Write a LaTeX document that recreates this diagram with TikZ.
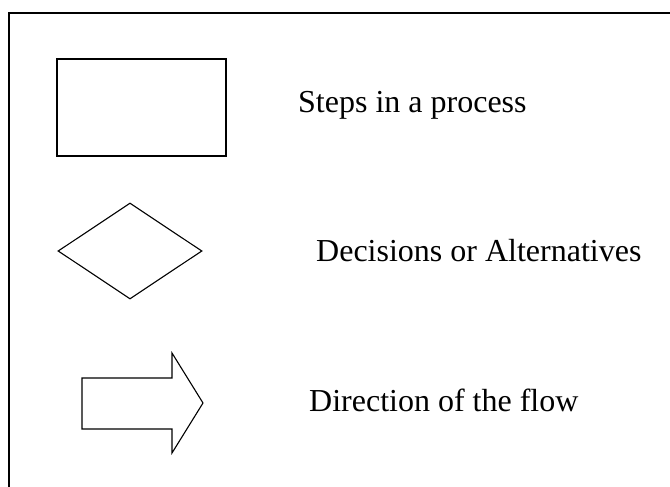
\documentclass[tikz,border=0pt]{standalone}
\usepackage{fontspec}
\setmainfont{Liberation Serif}
\usetikzlibrary{shapes.geometric}

\tikzset{
  shapeline/.style={draw,line width=1.1pt,inner sep=0pt},
  legendtext/.style={anchor=base west,inner sep=0pt,font=\fontsize{32}{38}\selectfont}
}

\begin{document}
\begin{tikzpicture}[x=1pt,y=-1pt]
  \useasboundingbox (0,0) rectangle (670,487);
  % frame, open on the right and at the bottom
  \draw[line width=1.6pt] (9,487) -- (9,13) -- (670,13);

  \node[shapeline,rectangle,minimum width=169pt,minimum height=97pt] (stepbox) at (141.5,107.5) {};
  \node[shapeline,diamond,minimum width=144pt,minimum height=96pt] (decisionbox) at (130,251) {};
  % block arrow
  \draw[line width=1.1pt,line join=miter] (82,378) -- (172,378) -- (172,353) -- (203,403)
    -- (172,453) -- (172,429) -- (82,429) -- cycle;
  \coordinate (flowarrow) at (142,403);

  \node[legendtext] (steptext) at (298,113) {Steps in a process};
  \node[legendtext] (decisiontext) at (316,261) {Decisions or Alternatives};
  \node[legendtext] (flowtext) at (309,411) {Direction of the flow};
\end{tikzpicture}
\end{document}
